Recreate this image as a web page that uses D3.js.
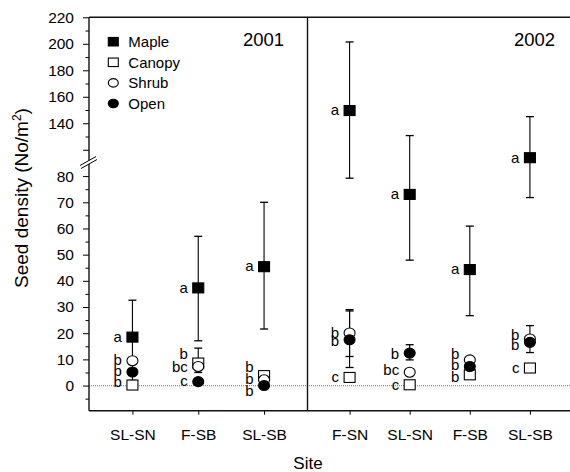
<!DOCTYPE html>
<html>
<head>
<meta charset="utf-8">
<script src="https://cdn.jsdelivr.net/npm/d3@7"></script>
<style>
  body { margin: 0; background: #fff; }
  svg text { font-family: Arial, "Liberation Sans", Helvetica, sans-serif; fill: #000; }
</style>
</head>
<body>
<script>
// sites sampled in each year
var sites2001 = ["SL-SN", "F-SB", "SL-SB"];
var sites2002 = ["F-SN", "SL-SN", "F-SB", "SL-SB"];
var groups = ["Maple", "Canopy", "Shrub", "Open"];

// mean seed density (No/m2)
var maple2001 = [18.5, 37.3, 45.4];
var canopy2001 = [0.2, 8.6, 3.8];
var shrub2001 = [9.5, 7.3, 2.2];
var open2001 = [5.2, 1.5, 0];

var maple2002 = [149.6, 73, 44.3, 114];
var canopy2002 = [3.1, 0.3, 4.1, 6.7];
var shrub2002 = [20.1, 5.1, 9.8, 17.8];
var open2002 = [17.5, 12.4, 7.3, 16.5];

// error bars [low, high], null where hidden behind the symbols
var mapleErr2001 = [[2, 32.6], [17.1, 57], [21.6, 70]];
var canopyErr2001 = [null, [5, 14.3], null];
var shrubErr2001 = [null, null, null];
var openErr2001 = [null, null, null];

var mapleErr2002 = [[79.2, 201.4], [47.9, 130.7], [26.7, 60.9], [71.8, 145]];
var canopyErr2002 = [null, null, null, null];
var shrubErr2002 = [[11.1, 29], null, null, null];
var openErr2002 = [[6.9, 28.5], [9.8, 15.6], null, [12.6, 22.9]];

// significance letters
var mapleLetters2001 = ["a", "a", "a"];
var canopyLetters2001 = ["b", "b", "b"];
var shrubLetters2001 = ["b", "bc", "b"];
var openLetters2001 = ["b", "c", "b"];

var mapleLetters2002 = ["a", "a", "a", "a"];
var canopyLetters2002 = ["c", "c", "b", "c"];
var shrubLetters2002 = ["b", "bc", "b", "b"];
var openLetters2002 = ["b", "b", "b", "b"];

// value at which each letter is written
var canopyLabelAt2001 = [1.3, 12.1, 7.0];
var shrubLabelAt2001 = [9.8, 7.2, 2.5];
var openLabelAt2001 = [5.4, 1.5, -2.0];

var canopyLabelAt2002 = [3.1, 0.3, 3.2, 6.7];
var shrubLabelAt2002 = [20.1, 6.0, 11.8, 19.4];
var openLabelAt2002 = [16.9, 11.8, 7.9, 15.6];

// y axis ticks (broken axis)
var lowTicks = [0, 10, 20, 30, 40, 50, 60, 70, 80];
var lowMinor = [-5, 5, 15, 25, 35, 45, 55, 65, 75];
var highTicks = [120, 140, 160, 180, 200, 220];
var highMinor = [130, 150, 170, 190, 210];


window.onload = function() {
	drawChart();
};


function makeSeries(values, err, letters, labelAt) {
	// one series per group, combined per site index
	return values.map(function(v, i) {
		return {value: v, err: err[i], letter: letters[i], labelAt: labelAt ? labelAt[i] : v};
	});
}


function drawChart() {
	var w = 570,
	    h = 472,
	    left = 89,
	    top = 17.3,
	    bottom = 410.7,
	    mid = 307.5,
	    right = 572,
	    breakY = 163,
	    breakLow = 85,
	    breakHigh = 110;

	var svg = d3.select("body")
	            .append("svg")
	            .attr("width", w)
	            .attr("height", h);

	// two linear pieces for the broken y axis
	var yLow = d3.scaleLinear()
	             .domain([-9.6, breakLow])
	             .range([bottom, breakY]);
	var yHigh = d3.scaleLinear()
	              .domain([breakHigh, 220])
	              .range([breakY, top]);
	function y(v) {
		return v <= breakLow ? yLow(v) : yHigh(v);
	}

	var x2001 = d3.scalePoint()
	              .domain(sites2001)
	              .range([left, mid])
	              .padding(0.66);
	var x2002 = d3.scalePoint()
	              .domain(sites2002)
	              .range([mid, right])
	              .padding(0.7);

	var panels = [
		{year: "2001", x: x2001, sites: sites2001, yearX: 243, series: [
			makeSeries(maple2001, mapleErr2001, mapleLetters2001, null),
			makeSeries(canopy2001, canopyErr2001, canopyLetters2001, canopyLabelAt2001),
			makeSeries(shrub2001, shrubErr2001, shrubLetters2001, shrubLabelAt2001),
			makeSeries(open2001, openErr2001, openLetters2001, openLabelAt2001)
		]},
		{year: "2002", x: x2002, sites: sites2002, yearX: 514, series: [
			makeSeries(maple2002, mapleErr2002, mapleLetters2002, null),
			makeSeries(canopy2002, canopyErr2002, canopyLetters2002, canopyLabelAt2002),
			makeSeries(shrub2002, shrubErr2002, shrubLetters2002, shrubLabelAt2002),
			makeSeries(open2002, openErr2002, openLetters2002, openLabelAt2002)
		]}
	];

	// dotted zero line
	svg.append("line")
	   .attr("x1", left)
	   .attr("x2", right)
	   .attr("y1", y(0))
	   .attr("y2", y(0))
	   .attr("stroke", "#8a8a8a")
	   .attr("stroke-width", 1.2)
	   .attr("stroke-dasharray", "1,1");

	// y axis, lower part
	var gLow = svg.append("g")
	              .attr("transform", "translate(" + left + ",0)")
	              .call(d3.axisLeft(yLow).tickValues(lowTicks).tickSize(6).tickPadding(9));
	svg.append("g")
	   .attr("transform", "translate(" + left + ",0)")
	   .call(d3.axisLeft(yLow).tickValues(lowMinor).tickSize(3.5).tickFormat(""));

	// y axis, upper part
	var gHigh = svg.append("g")
	               .attr("transform", "translate(" + left + ",0)")
	               .call(d3.axisLeft(yHigh).tickValues(highTicks).tickSize(6).tickPadding(9)
	                       .tickFormat(function(d) { return d === 120 ? "" : d; }));
	svg.append("g")
	   .attr("transform", "translate(" + left + ",0)")
	   .call(d3.axisLeft(yHigh).tickValues(highMinor).tickSize(3.5).tickFormat(""));

	// x axes, one per year
	panels.forEach(function(p) {
		svg.append("g")
		   .attr("class", "xaxis")
		   .attr("transform", "translate(0," + bottom + ")")
		   .call(d3.axisBottom(p.x).tickSize(4).tickPadding(14));
	});

	svg.selectAll(".domain").remove();
	svg.selectAll(".tick line").attr("stroke", "#000");
	svg.selectAll(".tick text")
	   .attr("font-size", 15.5)
	   .attr("font-family", "Arial, 'Liberation Sans', sans-serif");

	// frame
	var frame = [
		[left, top, right, top],
		[left, top, left, bottom],
		[left, bottom, right, bottom],
		[mid, top, mid, bottom]
	];
	svg.selectAll(".frame")
	   .data(frame)
	   .enter()
	   .append("line")
	   .attr("x1", function(d) { return d[0]; })
	   .attr("y1", function(d) { return d[1]; })
	   .attr("x2", function(d) { return d[2]; })
	   .attr("y2", function(d) { return d[3]; })
	   .attr("stroke", "#111")
	   .attr("stroke-width", 1.4);

	// axis break mark
	svg.append("polygon")
	   .attr("points", "80,165.5 96,156.5 97,159.5 81,168.5")
	   .attr("fill", "#fff");
	svg.append("line")
	   .attr("x1", 80).attr("y1", 165.5).attr("x2", 96).attr("y2", 156.5)
	   .attr("stroke", "#000").attr("stroke-width", 1);
	svg.append("line")
	   .attr("x1", 81).attr("y1", 168.5).attr("x2", 97).attr("y2", 159.5)
	   .attr("stroke", "#000").attr("stroke-width", 1);

	// data in each panel
	panels.forEach(function(p) {
		var g = svg.append("g");

		// error bars first so symbols cover them
		p.series.forEach(function(s) {
			s.forEach(function(d, i) {
				if (!d.err) return;
				var cx = p.x(p.sites[i]);
				g.append("line")
				 .attr("x1", cx).attr("x2", cx)
				 .attr("y1", y(d.err[0])).attr("y2", y(d.err[1]))
				 .attr("stroke", "#000").attr("stroke-width", 1.1);
				d.err.forEach(function(e) {
					g.append("line")
					 .attr("x1", cx - 4).attr("x2", cx + 4)
					 .attr("y1", y(e)).attr("y2", y(e))
					 .attr("stroke", "#000").attr("stroke-width", 1.3);
				});
			});
		});

		// symbols
		p.series.forEach(function(s, k) {
			s.forEach(function(d, i) {
				var cx = p.x(p.sites[i]);
				drawSymbol(g, k, cx, y(d.value), 11, 10);
			});
		});

		// letters
		p.series.forEach(function(s) {
			s.forEach(function(d, i) {
				g.append("text")
				 .attr("x", p.x(p.sites[i]) - 10.5)
				 .attr("y", y(d.labelAt))
				 .attr("dy", "0.32em")
				 .attr("text-anchor", "end")
				 .attr("font-size", 15)
				 .text(d.letter);
			});
		});

		// year label
		svg.append("text")
		   .attr("x", p.yearX)
		   .attr("y", 46)
		   .attr("font-size", 18.5)
		   .text(p.year);
	});

	// legend
	var legend = svg.selectAll(".legend")
	                .data(groups)
	                .enter()
	                .append("g")
	                .attr("class", "legend")
	                .attr("transform", function(d, i) {
	                	return "translate(113.3," + (41.7 + i * 20.6) + ")";
	                });
	legend.each(function(d, i) {
		drawSymbol(d3.select(this), i, 0, 0, 10, 8.5);
	});
	legend.append("text")
	      .attr("x", 15)
	      .attr("dy", "0.35em")
	      .attr("font-size", 15)
	      .text(function(d) { return d; });

	// axis titles
	var yTitle = svg.append("text")
	                .attr("transform", "translate(28,198) rotate(-90)")
	                .attr("text-anchor", "middle")
	                .attr("font-size", 19);
	yTitle.append("tspan").text("Seed density (No/m");
	yTitle.append("tspan").attr("dy", -7).attr("font-size", 12).text("2");
	yTitle.append("tspan").attr("dy", 7).text(")");

	svg.append("text")
	   .attr("x", 308)
	   .attr("y", 469)
	   .attr("text-anchor", "middle")
	   .attr("font-size", 17)
	   .text("Site");
}


function drawSymbol(g, k, cx, cy, wd, ht) {
	// 0 maple: filled square, 1 canopy: open square, 2 shrub: open circle, 3 open: filled circle
	if (k < 2) {
		g.append("rect")
		 .attr("x", cx - wd / 2)
		 .attr("y", cy - ht / 2)
		 .attr("width", wd)
		 .attr("height", ht)
		 .attr("fill", k === 0 ? "#000" : "#fff")
		 .attr("stroke", "#000")
		 .attr("stroke-width", 1.1);
	} else {
		g.append("ellipse")
		 .attr("cx", cx)
		 .attr("cy", cy)
		 .attr("rx", wd / 2)
		 .attr("ry", ht / 2)
		 .attr("fill", k === 3 ? "#000" : "#fff")
		 .attr("stroke", "#000")
		 .attr("stroke-width", 1.1);
	}
}
</script>
</body>
</html>
